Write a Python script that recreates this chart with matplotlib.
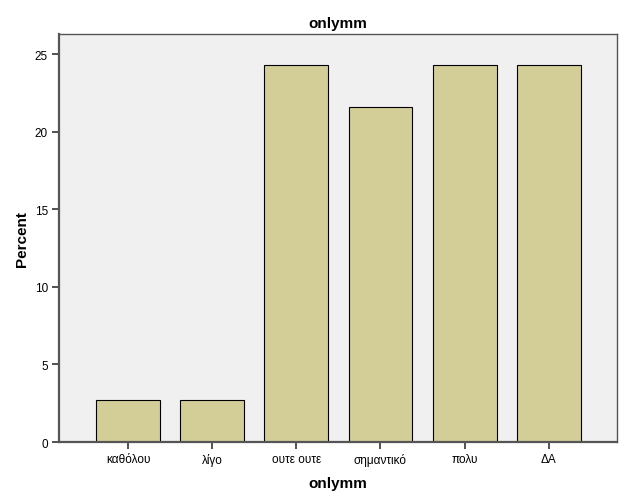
import numpy as np
import matplotlib
matplotlib.use("Agg")
import matplotlib.pyplot as plt

categories = ["καθόλου", "λίγο", "ουτε ουτε", "σημαντικό", "πολυ", "ΔΑ"]
percent = [2.7, 2.7, 24.3, 21.6, 24.3, 24.3]
yticks = [0, 5, 10, 15, 20, 25]

plt.rcParams["font.family"] = ["Liberation Sans", "DejaVu Sans"]

fig = plt.figure(figsize=(6.27, 5.02), dpi=100)
ax = fig.add_axes([0.0941, 0.1175, 0.8899, 0.8125])

x = np.arange(len(categories))
ax.bar(x, percent, width=0.76, color="#D3CE97", edgecolor="black", linewidth=0.8, zorder=2)

ax.set_facecolor("#F0F0F0")
ax.set_xlim(-0.82, 5.81)
ax.set_ylim(0, 26.3)
ax.set_xticks(x)
ax.set_xticklabels(categories, fontsize=8.5)
ax.set_yticks(yticks)
ax.set_yticklabels([str(t) for t in yticks], fontsize=8.5)
ax.tick_params(direction="out", length=5, width=1.2, color="#333333", pad=3)

for s in ax.spines.values():
    s.set_color("#555555")
    s.set_linewidth(1.0)
ax.spines["left"].set_linewidth(1.6)
ax.spines["bottom"].set_linewidth(1.6)

ax.set_xlabel("onlymm", fontsize=11, fontweight="bold", labelpad=7)
ax.set_ylabel("Percent", fontsize=11, fontweight="bold", labelpad=4)
ax.set_title("onlymm", fontsize=11, fontweight="bold", pad=5)

fig.savefig("out.png", dpi=100)
